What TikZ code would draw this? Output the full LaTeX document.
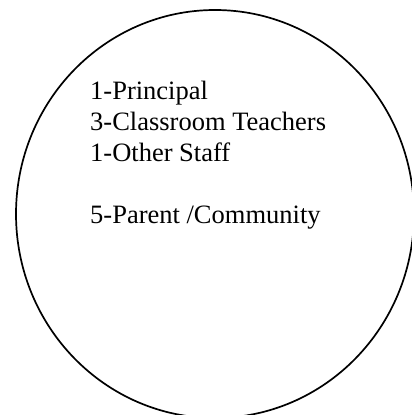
\documentclass[tikz,border=0pt]{standalone}
\usepackage{fontspec}
\setmainfont{Liberation Serif}
\usetikzlibrary{shapes.geometric}
\begin{document}
\begin{tikzpicture}[x=1pt,y=1pt,
  lbl/.style={anchor=base west, inner sep=0pt, font=\fontsize{26.5}{31}\selectfont},
  ring/.style={draw=black, line width=1.7pt}]
\useasboundingbox (0,0) rectangle (412,415);
\clip (0,0) rectangle (412,415);
\fill[white] (0,0) rectangle (412,415);
\draw[ring] (215,201) ellipse [x radius=199, y radius=204];
\node[lbl] (l1) at (90,315) {1-Principal};
\node[lbl] (l2) at (90,284) {3-Classroom Teachers};
\node[lbl] (l3) at (90,253) {1-Other Staff};
\node[lbl] (l4) at (90,191) {5-Parent /Community};
\end{tikzpicture}
\end{document}
